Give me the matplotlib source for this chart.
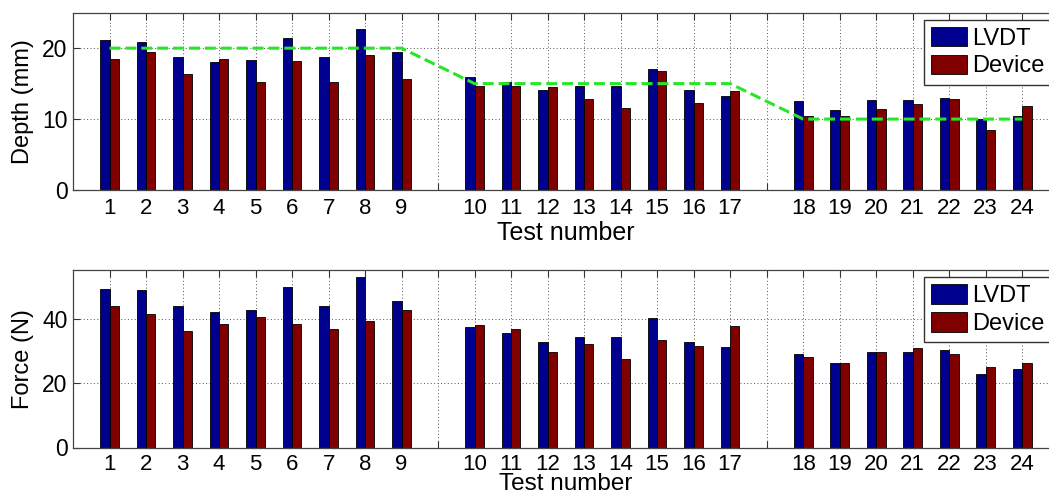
import numpy as np
import matplotlib
matplotlib.use("Agg")
import matplotlib.pyplot as plt

plt.rcParams['font.family'] = ['Liberation Sans', 'DejaVu Sans']

# ---- data ----
tests = list(range(1, 25))
depth_lvdt = [21.1, 20.9, 18.8, 18.0, 18.3, 21.4, 18.8, 22.7, 19.4,
              16.0, 15.2, 14.1, 14.6, 14.6, 17.1, 14.1, 13.3,
              12.5, 11.3, 12.7, 12.7, 13.0, 10.0, 10.4]
depth_device = [18.5, 19.5, 16.4, 18.5, 15.2, 18.2, 15.2, 19.1, 15.7,
                14.6, 14.6, 14.5, 12.8, 11.6, 16.8, 12.2, 14.0,
                10.5, 10.5, 11.4, 12.1, 12.9, 8.5, 11.9]
force_lvdt = [49.2, 48.9, 44.0, 41.9, 42.8, 49.9, 44.0, 53.0, 45.3,
              37.4, 35.4, 32.8, 34.2, 34.2, 40.1, 32.8, 31.1,
              28.9, 26.3, 29.7, 29.7, 30.3, 22.9, 24.2]
force_device = [44.0, 41.4, 36.2, 38.2, 40.6, 38.2, 36.8, 39.1, 42.5,
                37.9, 36.7, 29.7, 32.0, 27.4, 33.5, 31.5, 37.7,
                28.2, 26.3, 29.7, 30.8, 29.1, 25.0, 26.3]
target_depth = [20]*9 + [15]*8 + [10]*7
series_names = ['LVDT', 'Device']

# ---- layout: one empty slot between the three groups ----
tests_arr = np.array(tests)
pos = tests_arr + (tests_arr >= 10) + (tests_arr >= 18)
all_ticks = np.arange(1, 27)
tick_labels = []
for t in all_ticks:
    idx = np.where(pos == t)[0]
    tick_labels.append(str(tests[idx[0]]) if len(idx) else '')

c_blue = (0.0, 0.0, 0.5625)
c_red = (0.5, 0.0, 0.0)
w = 0.255

fig = plt.figure(figsize=(10.49, 5.0), dpi=100)
ax1 = fig.add_axes([0.0696, 0.62, 1.0093 - 0.0696, 0.9746 - 0.62])
ax2 = fig.add_axes([0.0696, 0.105, 1.0093 - 0.0696, 0.4596 - 0.105])

def style(ax, yticks, ylim, ylabel, xpad, xlabelpad, xlabelsize):
    ax.set_xlim(0, 27)
    ax.set_ylim(*ylim)
    ax.set_xticks(all_ticks)
    ax.set_xticklabels(tick_labels, fontsize=16)
    ax.set_yticks(yticks)
    ax.set_yticklabels([str(v) for v in yticks], fontsize=16.5)
    ax.tick_params(direction='in', top=True, right=True, length=5,
                   width=0.8, colors='#333333', labelcolor='black')
    ax.tick_params(axis='x', pad=xpad)
    ax.tick_params(axis='y', pad=4)
    ax.grid(True, linestyle=(0, (1, 2.5)), color='#555555', linewidth=0.7)
    ax.set_axisbelow(True)
    for s in ax.spines.values():
        s.set_color('#444444')
        s.set_linewidth(0.9)
    ax.set_xlabel('Test number', fontsize=xlabelsize, labelpad=xlabelpad)
    ax.set_ylabel(ylabel, fontsize=17, labelpad=6)

def bars(ax, a, b):
    ax.bar(pos - w/2, a, width=w, color=c_blue, edgecolor='black',
           linewidth=0.6, label=series_names[0], zorder=2)
    ax.bar(pos + w/2, b, width=w, color=c_red, edgecolor='black',
           linewidth=0.6, label=series_names[1], zorder=2)
    leg = ax.legend(loc='upper right', fontsize=17, handlelength=1.55,
                    handleheight=0.9, handletextpad=0.2, labelspacing=0.2,
                    borderpad=0.3, borderaxespad=0.3, fancybox=False,
                    framealpha=1, edgecolor='#333333')
    leg.get_frame().set_linewidth(1.0)

bars(ax1, depth_lvdt, depth_device)
ax1.plot(pos, target_depth, color=(0.15, 0.9, 0.15), linewidth=2.2,
         dashes=(3.6, 1.6), zorder=3)
style(ax1, [0, 10, 20], (0, 25), 'Depth (mm)', 6, 1, 18)

bars(ax2, force_lvdt, force_device)
style(ax2, [0, 20, 40], (0, 55), 'Force (N)', 5, -1.5, 17.5)

fig.savefig('out.png', dpi=100)
